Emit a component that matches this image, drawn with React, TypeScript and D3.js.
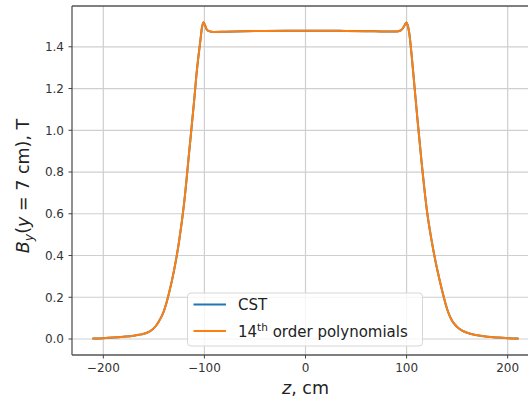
import React from "react";
import * as d3 from "d3";

const zValues = [
  -210, -200, -190, -180, -170, -165, -160, -155, -152.5, -150, -147.5, -145, -142.5, -140, -135, -130, -125, -120,
  -115, -110, -108, -106, -104, -102.5, -101, -99.5, -98, -96, -93, -90, -80, -60, -40,
  -20, 0, 20, 40, 60, 80, 90, 94, 96.5, 98.5, 99.8, 101, 102.5, 105, 108, 111, 115, 120,
  125, 130, 135, 140, 142.5, 145, 147.5, 150, 152.5, 155, 160, 165, 170, 180, 190, 200, 210,
];
const cstValues = [
  0.002, 0.004, 0.007, 0.011, 0.016, 0.02, 0.025, 0.034, 0.042, 0.052, 0.066, 0.085, 0.107, 0.135, 0.22, 0.33, 0.47, 0.655,
  0.9, 1.15, 1.26, 1.35, 1.43, 1.49, 1.518, 1.505, 1.485, 1.476, 1.472, 1.471, 1.472, 1.474, 1.476,
  1.477, 1.477, 1.477, 1.476, 1.475, 1.473, 1.473, 1.478, 1.49, 1.507, 1.516, 1.505, 1.47, 1.36, 1.2, 1.04, 0.84, 0.62,
  0.465, 0.34, 0.235, 0.145, 0.112, 0.088, 0.071, 0.058, 0.048, 0.04, 0.03, 0.023, 0.018, 0.011, 0.007, 0.004, 0.002,
];
const polyValues = cstValues.slice();

const xTicks = [-200, -100, 0, 100, 200];
const xTickLabels = ["\u2212200", "\u2212100", "0", "100", "200"];
const yTicks = [0, 0.2, 0.4, 0.6, 0.8, 1.0, 1.2, 1.4];
const yTickLabels = ["0.0", "0.2", "0.4", "0.6", "0.8", "1.0", "1.2", "1.4"];
const legendLabels = ["CST", "14", "th", " order polynomials"];

const W = 528;
const H = 399;
const left = 72, right = 539, top = 6, bottom = 355;
const FONT = "DejaVu Sans, sans-serif";

export default function App() {
  const x = d3.scaleLinear().domain([-231, 231]).range([left, right]);
  const y = d3.scaleLinear().domain([-0.0766, 1.5954]).range([bottom, top]);
  const line = d3
    .line<number>()
    .x((_, i) => x(zValues[i]))
    .y((d) => y(d))
    .curve(d3.curveMonotoneX);

  return (
    <svg
      width={W}
      height={H}
      style={{ position: "absolute", left: 0, top: 0, background: "#fff" }}
      fontFamily={FONT}
    >
      <defs>
        <clipPath id="plot">
          <rect x={left} y={top} width={right - left} height={bottom - top} />
        </clipPath>
      </defs>
      {/* grid */}
      <g stroke="#cfcfcf" strokeWidth={1.2}>
        {xTicks.map((t) => (
          <line key={"gx" + t} x1={x(t)} x2={x(t)} y1={top} y2={bottom} />
        ))}
        {yTicks.map((t) => (
          <line key={"gy" + t} x1={left} x2={right} y1={y(t)} y2={y(t)} />
        ))}
      </g>
      {/* data */}
      <g clipPath="url(#plot)" fill="none" strokeLinejoin="round" strokeLinecap="round">
        <path d={line(cstValues) || ""} stroke="#1f77b4" strokeWidth={2} />
        <path d={line(polyValues) || ""} stroke="#ff7f0e" strokeWidth={2} />
      </g>
      {/* spines */}
      <g stroke="#555" strokeWidth={1.3} fill="none">
        <line x1={left} x2={left} y1={top} y2={bottom} />
        <line x1={left} x2={right} y1={bottom} y2={bottom} />
        <line x1={left} x2={right} y1={top} y2={top} />
        <line x1={right} x2={right} y1={top} y2={bottom} />
      </g>
      {/* x ticks */}
      <g>
        {xTicks.map((t, i) => (
          <g key={"xt" + t}>
            <line x1={x(t)} x2={x(t)} y1={bottom} y2={bottom + 3.5} stroke="#444" strokeWidth={1} />
            <text x={x(t)} y={371.5} textAnchor="middle" fontSize={12} fill="#333">
              {xTickLabels[i]}
            </text>
          </g>
        ))}
      </g>
      {/* y ticks */}
      <g>
        {yTicks.map((t, i) => (
          <g key={"yt" + t}>
            <line x1={left - 3.5} x2={left} y1={y(t)} y2={y(t)} stroke="#444" strokeWidth={1} />
            <text x={64} y={y(t)} dy="0.36em" textAnchor="end" fontSize={12} fill="#333">
              {yTickLabels[i]}
            </text>
          </g>
        ))}
      </g>
      {/* axis labels */}
      <text x={305.5} y={394} textAnchor="middle" fontSize={17.5} fill="#222">
        <tspan fontStyle="italic">z</tspan>, cm
      </text>
      <text
        transform={`translate(29,186) rotate(-90)`}
        textAnchor="middle"
        fontSize={17.5}
        fill="#222"
      >
        <tspan fontStyle="italic">B</tspan>
        <tspan fontStyle="italic" fontSize={12.5} dy={4}>y</tspan>
        <tspan dy={-4}>(</tspan>
        <tspan fontStyle="italic">y</tspan>
        <tspan> = 7 cm), T</tspan>
      </text>
      {/* legend */}
      <g>
        <rect
          x={187.5}
          y={293}
          width={235}
          height={53}
          rx={3.5}
          fill="#fff"
          fillOpacity={0.8}
          stroke="#d6d6d6"
          strokeWidth={1}
        />
        <line x1={193.5} x2={226} y1={304.5} y2={304.5} stroke="#1f77b4" strokeWidth={2} />
        <line x1={193.5} x2={226} y1={331} y2={331} stroke="#ff7f0e" strokeWidth={2} />
        <text x={238} y={310} fontSize={15} fill="#222">
          {legendLabels[0]}
        </text>
        <text x={238} y={336.5} fontSize={15} fill="#222">
          {legendLabels[1]}
          <tspan fontSize={10.5} dy={-6}>{legendLabels[2]}</tspan>
          <tspan dy={6}>{legendLabels[3]}</tspan>
        </text>
      </g>
    </svg>
  );
}
